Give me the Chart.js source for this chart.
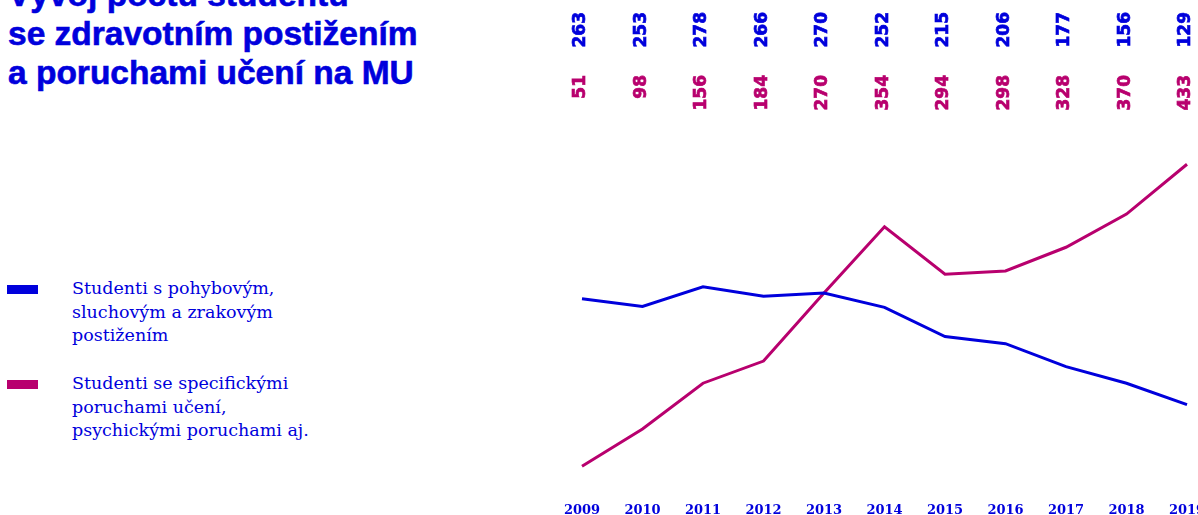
<!DOCTYPE html>
<html lang="cs">
<head>
<meta charset="utf-8">
<script src="https://cdn.jsdelivr.net/npm/chart.js@4/dist/chart.umd.min.js"></script>
<style>
  html, body { margin: 0; padding: 0; background: #fff; overflow: hidden; width: 1198px; height: 515px; }
  #title {
    position: absolute; left: 8px; top: -25px; margin: 0;
    font: bold 33.5px/39px "Liberation Sans", Arial, sans-serif; color: #0000dc;
    -webkit-text-stroke: 0.6px #0000dc;
  }
  #legend { position: absolute; left: 7px; top: 277px; }
  .item { position: relative; padding-left: 65px; margin-bottom: 24.5px;
    font: 17.5px/23.5px "DejaVu Serif", serif; color: #0000dc; }
  .swatch { position: absolute; left: 0; top: 8px; width: 31px; height: 9px; }
  #chart { position: absolute; left: 0; top: 0; }
</style>
</head>
<body>
<h1 id="title">Vývoj počtu studentů<br>se zdravotním postižením<br>a poruchami učení na MU</h1>
<div id="legend"></div>
<canvas id="chart" width="1218" height="518"></canvas>
<script>
// --- DATA ---
const years = ['2009', '2010', '2011', '2012', '2013', '2014', '2015', '2016', '2017', '2018', '2019'];
const physical = [263, 253, 278, 266, 270, 252, 215, 206, 177, 156, 129];
const learning = [51, 98, 156, 184, 270, 354, 294, 298, 328, 370, 433];
const physicalLabel = ['Studenti s pohybovým,', 'sluchovým a zrakovým', 'postižením'];
const learningLabel = ['Studenti se specifickými', 'poruchami učení,', 'psychickými poruchami aj.'];

const blue = '#0000dc';
const pink = '#b8006e';

// --- HTML LEGEND ---
const legendEl = document.getElementById('legend');
[[physicalLabel, blue], [learningLabel, pink]].forEach(([lines, color]) => {
    const item = document.createElement('div');
    item.className = 'item';
    item.innerHTML = '<span class="swatch" style="background:' + color + '"></span>' + lines.join('<br>');
    legendEl.appendChild(item);
});

// rotated value labels above the plot, one row per series
const valueLabels = {
    id: 'valueLabels',
    afterDraw(chart) {
        const ctx = chart.ctx;
        const x = chart.scales.x;
        const rows = [12, 75]; // top anchor of each row
        chart.data.datasets.forEach((ds, d) => {
            ctx.save();
            ctx.fillStyle = ds.borderColor;
            ctx.strokeStyle = ds.borderColor;
            ctx.lineWidth = 0.7;
            ctx.font = 'bold 17px "DejaVu Sans", sans-serif';
            ds.data.forEach((v, i) => {
                ctx.save();
                ctx.translate(x.getPixelForValue(i) - 1, rows[d]);
                ctx.rotate(-Math.PI / 2);
                ctx.textAlign = 'right';
                ctx.textBaseline = 'middle';
                ctx.fillText(String(v), 0, 0);
                ctx.strokeText(String(v), 0, 0);
                ctx.restore();
            });
            ctx.restore();
        });
    }
};

new Chart(document.getElementById('chart'), {
    type: 'line',
    data: {
        labels: years,
        datasets: [
            { label: physicalLabel.join(' '), data: physical, borderColor: blue, borderWidth: 3, pointRadius: 0, tension: 0 },
            { label: learningLabel.join(' '), data: learning, borderColor: pink, borderWidth: 3, pointRadius: 0, tension: 0 }
        ]
    },
    options: {
        responsive: false,
        animation: false,
        devicePixelRatio: 1,
        layout: { padding: { left: 582, right: 31, top: 105, bottom: 0 } },
        plugins: { legend: { display: false }, tooltip: { enabled: false } },
        scales: {
            y: { display: false, min: 9, max: 508 },
            x: {
                offset: false,
                grid: { display: false, drawTicks: false },
                border: { display: false },
                afterFit(scale) { scale.height = 18.6; },
                ticks: {
                    color: blue, padding: 3, maxRotation: 0, autoSkip: false,
                    font: { family: '"DejaVu Serif", serif', weight: 'bold', size: 13 }
                }
            }
        }
    },
    plugins: [valueLabels]
});
</script>
</body>
</html>
